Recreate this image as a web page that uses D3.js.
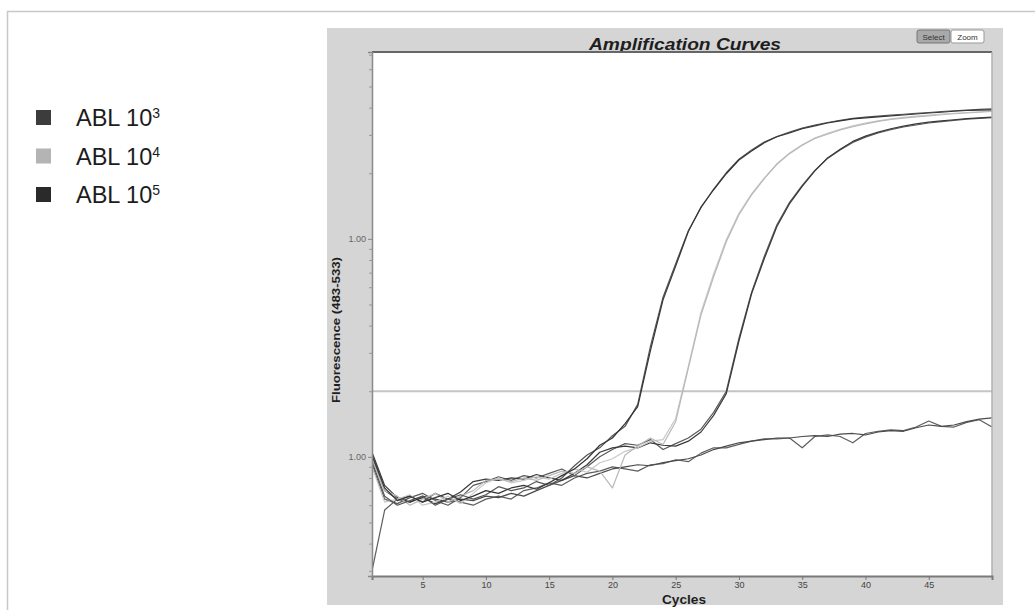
<!DOCTYPE html>
<html>
<head>
<meta charset="utf-8">
<script src="https://cdn.jsdelivr.net/npm/d3@7/dist/d3.min.js"></script>
<style>
body { margin: 0; background: #fff; }
text { font-family: "Liberation Sans", Arial, sans-serif; }
</style>
</head>
<body>
<div id="vis"></div>
<script>
// cycle numbers on the x axis
var cycles = [1,2,3,4,5,6,7,8,9,10,11,12,13,14,15,16,17,18,19,20,21,22,23,24,25,
              26,27,28,29,30,31,32,33,34,35,36,37,38,39,40,41,42,43,44,45,46,47,48,49,50];

// fluorescence readings, one value per cycle
var abl5a = [1.02,0.72,0.63,0.66,0.62,0.65,0.68,0.63,0.66,0.70,0.68,0.72,0.74,0.71,0.76,0.82,0.88,0.98,1.13,1.22,
             1.42,1.70,3.06,5.25,7.5,10.8,14.0,16.8,19.9,23.0,25.3,27.6,29.4,30.6,32.0,33.0,34.0,34.8,35.5,35.9,
             36.3,36.7,37.0,37.4,37.8,38.1,38.5,38.8,39.0,39.1];
var abl5b = [0.95,0.66,0.60,0.63,0.66,0.60,0.64,0.67,0.64,0.67,0.73,0.70,0.72,0.77,0.74,0.80,0.91,1.02,1.10,1.25,
             1.38,1.74,3.2,5.4,7.7,10.9,13.9,16.9,20.1,23.2,25.6,27.8,29.5,30.9,32.2,33.3,34.2,35.0,35.7,36.2,
             36.6,37.0,37.3,37.7,38.0,38.4,38.7,39.0,39.3,39.5];
var abl4a = [0.98,0.70,0.66,0.60,0.64,0.68,0.62,0.66,0.70,0.78,0.79,0.77,0.80,0.78,0.82,0.86,0.84,0.90,0.86,0.72,
             1.02,1.12,1.22,1.14,1.45,2.55,4.47,6.7,9.7,12.9,15.9,18.9,22.0,24.6,26.9,28.9,30.2,31.6,32.7,33.7,
             34.6,35.3,35.8,36.3,36.7,37.1,37.5,37.8,38.1,38.4];
var abl4b = [0.90,0.62,0.64,0.67,0.60,0.62,0.66,0.61,0.68,0.76,0.80,0.76,0.78,0.81,0.79,0.84,0.88,0.85,0.94,0.98,
             1.06,1.10,1.18,1.20,1.50,2.6,4.6,6.9,9.9,13.1,16.1,19.0,22.1,24.8,27.0,29.0,30.5,31.8,33.0,34.0,
             34.8,35.5,36.1,36.6,37.0,37.4,37.7,38.0,38.3,38.6];
var abl3a = [1.05,0.74,0.65,0.62,0.65,0.61,0.64,0.69,0.77,0.79,0.78,0.80,0.79,0.83,0.80,0.78,0.84,0.92,1.05,1.10,
             1.12,1.10,1.16,1.13,1.12,1.18,1.30,1.55,1.95,3.4,5.6,8.1,11.4,14.5,17.4,20.5,23.5,25.8,28.0,29.6,
             30.9,32.0,32.9,33.7,34.3,34.8,35.2,35.6,35.9,36.2];
var abl3b = [0.92,0.64,0.61,0.65,0.68,0.63,0.60,0.65,0.74,0.77,0.81,0.78,0.82,0.80,0.84,0.88,0.82,0.90,1.00,1.08,
             1.15,1.13,1.20,1.08,1.15,1.22,1.34,1.60,2.0,3.5,5.7,8.3,11.6,14.7,17.6,20.6,23.4,25.6,27.7,29.3,
             30.6,31.7,32.6,33.3,34.0,34.5,35.0,35.4,35.7,36.0];
var negA  = [1.00,0.70,0.64,0.62,0.66,0.64,0.62,0.64,0.63,0.66,0.65,0.68,0.66,0.70,0.74,0.78,0.82,0.80,0.84,0.88,
             0.90,0.92,0.91,0.94,0.96,0.98,1.02,1.08,1.12,1.16,1.18,1.20,1.22,1.22,1.24,1.25,1.24,1.27,1.28,1.26,
             1.30,1.32,1.31,1.36,1.40,1.38,1.40,1.45,1.49,1.51];
var negB  = [0.30,0.57,0.64,0.66,0.62,0.68,0.64,0.62,0.60,0.64,0.66,0.64,0.70,0.72,0.76,0.74,0.80,0.84,0.86,0.90,
             0.88,0.86,0.92,0.93,0.97,0.95,1.04,1.10,1.10,1.14,1.18,1.21,1.21,1.22,1.10,1.24,1.26,1.24,1.16,1.28,
             1.31,1.33,1.32,1.37,1.46,1.38,1.37,1.44,1.48,1.37];

var threshold = 2.0;

var xTicks = [5, 10, 15, 20, 25, 30, 35, 40, 45];
var yMajor = [1, 10];
var yMajorLabels = ['1.00', '1.00'];
var yMinor = [0.3,0.4,0.5,0.6,0.7,0.8,0.9,2,3,4,5,6,7,8,9,20,30,40,50,60,70];

var legendNames = ['ABL 10', 'ABL 10', 'ABL 10'];
var legendExp = ['3', '4', '5'];
var legendColors = ['#3c3c3c', '#b4b4b4', '#2a2a2a'];

var width = 1035;
var height = 610;
var plot = {left: 372, top: 52, right: 992, bottom: 576};

var svg = d3.select('#vis')
            .append('svg')
            .attr('width', width)
            .attr('height', height);

// page frame
svg.append('path')
   .attr('d', 'M7.5,' + height + 'V11.5H' + width)
   .attr('fill', 'none')
   .attr('stroke', '#c8c8c8')
   .attr('stroke-width', 1.5);

////////////////////////////////// legend //////////////////////////////////
var legend = svg.selectAll('.legend')
                .data(legendNames)
                .enter()
                .append('g')
                .attr('class', 'legend')
                .attr('transform', function(d, i) { return 'translate(0,' + (126 + i * 38.5) + ')'; });

legend.append('rect')
      .attr('x', 36)
      .attr('y', -16)
      .attr('width', 15)
      .attr('height', 15)
      .attr('fill', function(d, i) { return legendColors[i]; });

var ltext = legend.append('text')
                  .attr('x', 76)
                  .attr('y', 0)
                  .style('font-size', '23.5px')
                  .attr('fill', '#1c1c1c');
ltext.append('tspan').text(function(d) { return d; });
ltext.append('tspan')
     .attr('dy', -8)
     .style('font-size', '14px')
     .text(function(d, i) { return legendExp[i]; });

////////////////////////////////// chart panel //////////////////////////////////
svg.append('rect')
   .attr('x', 327).attr('y', 28)
   .attr('width', 676).attr('height', 577)
   .attr('fill', '#d5d5d5');

svg.append('rect')
   .attr('x', plot.left).attr('y', plot.top)
   .attr('width', plot.right - plot.left).attr('height', plot.bottom - plot.top)
   .attr('fill', '#fff');

svg.append('text')
   .attr('x', 685).attr('y', 50)
   .attr('text-anchor', 'middle')
   .attr('textLength', 192)
   .attr('lengthAdjust', 'spacingAndGlyphs')
   .style('font-size', '16px')
   .style('font-weight', 'bold')
   .style('font-style', 'italic')
   .attr('fill', '#1e1e1e')
   .text('Amplification Curves');

// Select / Zoom buttons
var buttons = [{label: 'Select', x: 917, fill: '#a9a9a9', stroke: '#777'},
               {label: 'Zoom', x: 951, fill: '#fff', stroke: '#999'}];
var btn = svg.selectAll('.btn').data(buttons).enter().append('g').attr('class', 'btn');
btn.append('rect')
   .attr('x', function(d) { return d.x; }).attr('y', 30)
   .attr('width', 33).attr('height', 13).attr('rx', 2)
   .attr('fill', function(d) { return d.fill; })
   .attr('stroke', function(d) { return d.stroke; });
btn.append('text')
   .attr('x', function(d) { return d.x + 16.5; }).attr('y', 40)
   .attr('text-anchor', 'middle')
   .style('font-size', '8px')
   .attr('fill', '#333')
   .text(function(d) { return d.label; });

var xScale = d3.scaleLinear().domain([1, 50]).range([plot.left, plot.right]);
var yScale = d3.scaleLog().domain([0.284, 72]).range([plot.bottom, plot.top]);

// threshold line
svg.append('line')
   .attr('x1', plot.left).attr('x2', plot.right)
   .attr('y1', yScale(threshold)).attr('y2', yScale(threshold))
   .attr('stroke', '#c4c4c4')
   .attr('stroke-width', 2);

svg.append('clipPath').attr('id', 'clip')
   .append('rect')
   .attr('x', plot.left).attr('y', plot.top)
   .attr('width', plot.right - plot.left).attr('height', plot.bottom - plot.top);

var series = [
    {values: negB,  color: '#5e5e5e'},
    {values: negA,  color: '#4a4a4a'},
    {values: abl3b, color: '#5a5a5a'},
    {values: abl3a, color: '#3a3a3a'},
    {values: abl4b, color: '#c8c8c8'},
    {values: abl4a, color: '#b8b8b8'},
    {values: abl5b, color: '#555'},
    {values: abl5a, color: '#353535'}
];

var line = d3.line()
             .x(function(d, i) { return xScale(cycles[i]); })
             .y(function(d) { return yScale(d); });

svg.append('g')
   .attr('clip-path', 'url(#clip)')
   .selectAll('path')
   .data(series)
   .enter()
   .append('path')
   .attr('d', function(d) { return line(d.values); })
   .attr('fill', 'none')
   .attr('stroke', function(d) { return d.color; })
   .attr('stroke-width', 1.2)
   .attr('stroke-linejoin', 'round');

// plot border
svg.append('line').attr('x1', plot.left).attr('x2', plot.right).attr('y1', plot.top).attr('y2', plot.top)
   .attr('stroke', '#666').attr('stroke-width', 2);
svg.append('line').attr('x1', plot.right).attr('x2', plot.right).attr('y1', plot.top).attr('y2', plot.bottom)
   .attr('stroke', '#b0b0b0').attr('stroke-width', 1.5);

////////////////////////////////// axes //////////////////////////////////
var xAxis = d3.axisBottom(xScale)
              .tickValues(xTicks)
              .tickSize(4)
              .tickPadding(2)
              .tickFormat(d3.format('d'));
var gx = svg.append('g')
            .attr('transform', 'translate(0,' + plot.bottom + ')')
            .call(xAxis);
gx.select('.domain').attr('stroke', '#7a7a7a').attr('stroke-width', 2);
gx.selectAll('.tick line').attr('stroke', '#777');
gx.selectAll('.tick text').style('font-size', '9px').attr('fill', '#444')
  .style('font-family', '"Liberation Sans Narrow", "Liberation Sans", Arial');

var yAxis = d3.axisLeft(yScale)
              .tickValues(yMajor)
              .tickSize(4)
              .tickPadding(2)
              .tickFormat(function(d, i) { return yMajorLabels[i]; });
var gy = svg.append('g')
            .attr('transform', 'translate(' + plot.left + ',0)')
            .call(yAxis);
gy.select('.domain').attr('stroke', '#8a8a8a').attr('stroke-width', 1.5);
gy.selectAll('.tick line').attr('stroke', '#888');
gy.selectAll('.tick text').style('font-size', '9px').attr('fill', '#666');

var yMinorAxis = d3.axisLeft(yScale)
                   .tickValues(yMinor)
                   .tickSize(3)
                   .tickFormat('');
var gym = svg.append('g')
             .attr('transform', 'translate(' + plot.left + ',0)')
             .call(yMinorAxis);
gym.select('.domain').remove();
gym.selectAll('.tick line').attr('stroke', '#999');

svg.append('text')
   .attr('x', 684).attr('y', 604)
   .attr('text-anchor', 'middle')
   .attr('textLength', 44)
   .attr('lengthAdjust', 'spacingAndGlyphs')
   .style('font-size', '13px')
   .style('font-weight', 'bold')
   .attr('fill', '#1e1e1e')
   .text('Cycles');

svg.append('text')
   .attr('transform', 'translate(340,330) rotate(-90)')
   .attr('text-anchor', 'middle')
   .attr('textLength', 146)
   .attr('lengthAdjust', 'spacingAndGlyphs')
   .style('font-size', '11px')
   .style('font-weight', 'bold')
   .attr('fill', '#1e1e1e')
   .text('Fluorescence (483-533)');
</script>
</body>
</html>
